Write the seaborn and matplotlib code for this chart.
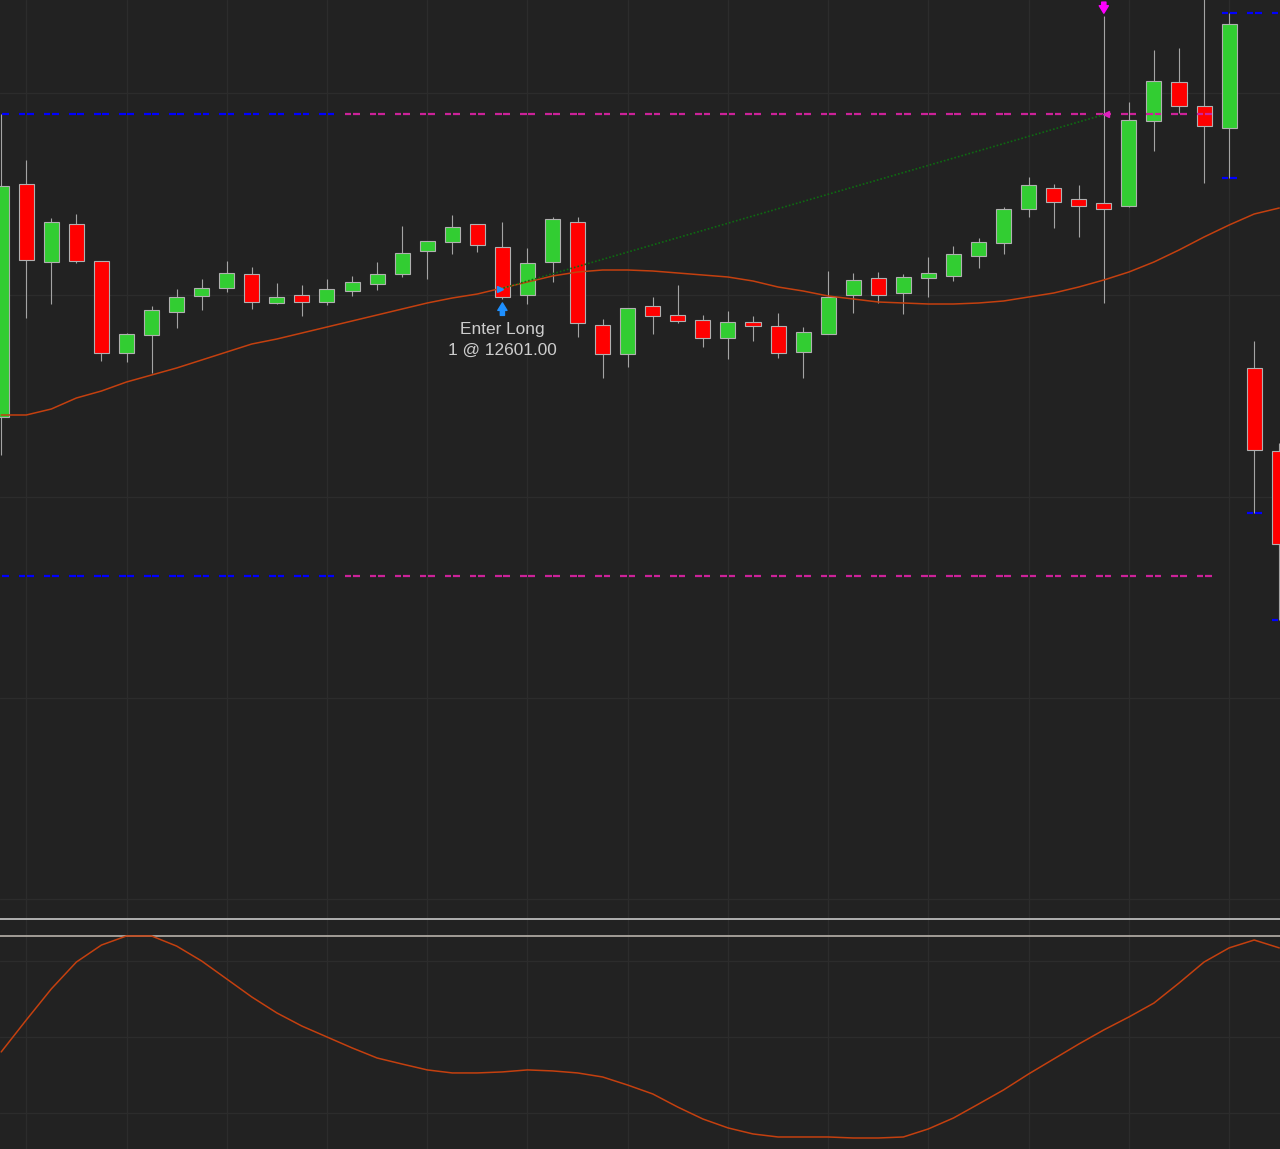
import numpy as np
import matplotlib
matplotlib.use("Agg")
import matplotlib.pyplot as plt
import seaborn as sns
from matplotlib.transforms import offset_copy

# price bars (one per session bar, index 0..51)
bars = np.arange(52)
opens = [12569.00, 12627.25, 12607.75, 12617.25, 12608.00, 12585.00, 12589.50, 12595.25, 12599.25, 12601.25,
         12604.75, 12597.50, 12599.50, 12597.75, 12600.50, 12602.25, 12604.75, 12610.50, 12612.75, 12617.25,
         12611.50, 12599.50, 12607.75, 12617.75, 12592.00, 12584.75, 12596.75, 12594.50, 12593.25, 12588.75,
         12592.75, 12591.75, 12585.25, 12589.75, 12599.50, 12603.75, 12600.00, 12603.75, 12604.25, 12609.25,
         12612.50, 12621.00, 12626.25, 12623.50, 12622.50, 12621.75, 12643.00, 12652.75, 12646.75, 12641.25,
         12581.25, 12560.50]
highs = [12644.75, 12633.25, 12618.75, 12619.75, 12608.00, 12590.00, 12596.75, 12601.00, 12603.50, 12608.00,
         12606.50, 12602.50, 12602.00, 12603.50, 12604.25, 12607.75, 12616.75, 12613.00, 12619.50, 12617.25,
         12617.75, 12611.25, 12619.00, 12619.00, 12593.50, 12596.25, 12599.00, 12602.00, 12594.50, 12595.50,
         12594.25, 12595.00, 12591.50, 12605.50, 12605.00, 12605.25, 12604.75, 12609.00, 12611.75, 12613.75,
         12621.50, 12629.00, 12627.25, 12627.00, 12669.25, 12647.75, 12660.75, 12661.25, 12678.25, 12670.00,
         12588.00, 12562.50]
lows = [12559.50, 12593.75, 12597.25, 12607.50, 12583.00, 12582.75, 12580.00, 12591.25, 12595.75, 12600.25,
        12596.00, 12597.25, 12594.25, 12597.00, 12599.25, 12600.75, 12604.00, 12603.50, 12609.75, 12610.25,
        12598.50, 12597.25, 12602.75, 12589.00, 12578.75, 12581.50, 12589.75, 12592.50, 12586.50, 12583.50,
        12588.00, 12583.75, 12578.75, 12589.75, 12595.00, 12597.50, 12594.75, 12599.00, 12603.00, 12606.25,
        12609.75, 12619.00, 12616.25, 12614.00, 12597.50, 12621.50, 12635.50, 12645.00, 12627.50, 12628.75,
        12545.00, 12518.25]
closes = [12626.75, 12608.25, 12617.75, 12608.00, 12585.00, 12589.75, 12595.75, 12599.00, 12601.25, 12605.00,
          12597.75, 12599.00, 12597.75, 12601.00, 12602.75, 12604.75, 12610.00, 12613.00, 12616.50, 12612.00,
          12599.00, 12607.50, 12618.50, 12592.50, 12584.75, 12596.25, 12594.25, 12593.00, 12588.75, 12592.75,
          12591.75, 12585.00, 12590.25, 12599.00, 12603.25, 12599.50, 12604.00, 12605.00, 12609.75, 12612.75,
          12621.00, 12627.00, 12622.75, 12621.75, 12621.00, 12643.25, 12653.00, 12646.75, 12641.75, 12667.25,
          12560.75, 12537.25]

# moving average on price panel
sma = [12569.50, 12569.50, 12571.00, 12573.75, 12575.50, 12577.75, 12579.50, 12581.25, 12583.25, 12585.25,
       12587.25, 12588.50, 12590.00, 12591.50, 12593.00, 12594.50, 12596.00, 12597.50, 12598.75, 12599.75,
       12601.25, 12602.75, 12604.25, 12605.25, 12605.75, 12605.75, 12605.50, 12605.00, 12604.50, 12604.00,
       12603.00, 12601.50, 12600.50, 12599.25, 12598.50, 12597.75, 12597.50, 12597.25, 12597.25, 12597.50,
       12598.00, 12599.00, 12600.00, 12601.50, 12603.25, 12605.25, 12607.75, 12610.75, 12614.00, 12617.00,
       12619.75, 12621.25]

# range levels (upper / lower) and which phase colours them
upper_level = [12644.75, 12644.75, 12644.75, 12644.75, 12644.75, 12644.75, 12644.75, 12644.75, 12644.75, 12644.75,
               12644.75, 12644.75, 12644.75, 12644.75, 12644.75, 12644.75, 12644.75, 12644.75, 12644.75, 12644.75,
               12644.75, 12644.75, 12644.75, 12644.75, 12644.75, 12644.75, 12644.75, 12644.75, 12644.75, 12644.75,
               12644.75, 12644.75, 12644.75, 12644.75, 12644.75, 12644.75, 12644.75, 12644.75, 12644.75, 12644.75,
               12644.75, 12644.75, 12644.75, 12644.75, 12644.75, 12644.75, 12644.75, 12644.75, 12644.75, 12670.00,
               12670.00, 12670.00]
lower_level = [12529.25, 12529.25, 12529.25, 12529.25, 12529.25, 12529.25, 12529.25, 12529.25, 12529.25, 12529.25,
               12529.25, 12529.25, 12529.25, 12529.25, 12529.25, 12529.25, 12529.25, 12529.25, 12529.25, 12529.25,
               12529.25, 12529.25, 12529.25, 12529.25, 12529.25, 12529.25, 12529.25, 12529.25, 12529.25, 12529.25,
               12529.25, 12529.25, 12529.25, 12529.25, 12529.25, 12529.25, 12529.25, 12529.25, 12529.25, 12529.25,
               12529.25, 12529.25, 12529.25, 12529.25, 12529.25, 12529.25, 12529.25, 12529.25, 12529.25, 12628.75,
               12545.00, 12518.25]
level_phase = [0, 0, 0, 0, 0, 0, 0, 0, 0, 0, 0, 0, 0, 0, 1, 1, 1, 1, 1, 1,
               1, 1, 1, 1, 1, 1, 1, 1, 1, 1, 1, 1, 1, 1, 1, 1, 1, 1, 1, 1,
               1, 1, 1, 1, 1, 1, 1, 1, 1, 0, 0, 0]

# oscillator (lower panel)
osc = [42.6, 58.4, 73.8, 87.1, 95.5, 100.0, 100.0, 95.0, 87.6, 78.7,
       69.8, 61.9, 55.4, 50.0, 44.6, 39.6, 36.6, 33.7, 32.2, 32.2,
       32.7, 33.7, 33.2, 32.2, 30.2, 26.2, 21.8, 15.3, 9.4, 5.0,
       2.0, 0.5, 0.5, 0.5, 0.0, 0.0, 0.5, 4.5, 9.9, 16.8,
       23.8, 31.7, 39.1, 46.5, 53.5, 59.9, 66.8, 76.7, 87.1, 94.1,
       98.0, 94.1]
osc_level = 100.0

# trade
entry_bar, entry_price = 20, 12601.00
exit_bar, exit_price = 44, 12644.75
entry_label = "Enter Long\n1 @ 12601.00"

price_grid = [12448.5, 12498.75, 12549.0, 12599.5, 12650.0]
osc_grid = [12.5, 50.0, 87.5]

BG = '#222222'
GRID = '#2c2c2c'
UP, DOWN = '#32cd32', '#ff0000'
MA_COLOR = '#c4400f'

sns.set_theme(style='dark', rc={'axes.facecolor': BG, 'figure.facecolor': BG,
                                'grid.color': GRID, 'grid.linewidth': 1.0})
plt.rcParams['font.family'] = ['Liberation Sans', 'DejaVu Sans']

fig = plt.figure(figsize=(12.8, 11.49), dpi=100)
H = 1149
ax = fig.add_axes([0, (H - 919) / H, 1, 919 / H])
ax2 = fig.add_axes([0, 0, 1, 230 / H])

o = np.array(opens); c = np.array(closes)
xlim = (-0.048, 51.03)

# --- price panel
ax.set_xlim(*xlim)
ax.set_ylim(12443.5, 12673.25)
ax.set_xticks(np.arange(1, 52, 4))
ax.set_yticks(price_grid)
ax.grid(True, color=GRID, lw=1.0)
ax.tick_params(length=0, labelbottom=False, labelleft=False)
for s in ax.spines.values():
    s.set_visible(False)

body_col = [UP if cc >= oo else DOWN for oo, cc in zip(o, c)]
ax.vlines(bars, lows, highs, color='#a4a4a4', lw=0.8, zorder=2)
ax.bar(bars, np.maximum(np.abs(c - o), 0.25), bottom=np.minimum(o, c), width=0.6,
       color=body_col, edgecolor='#b0b0b0', linewidth=0.8, zorder=3)

sns.lineplot(x=bars, y=sma, ax=ax, color=MA_COLOR, lw=1.1, zorder=4)

lvl_cols = ['#0000ff' if p == 0 else '#cc2299' for p in level_phase]
for lv in (upper_level, lower_level):
    ax.hlines(lv, bars - 0.3, bars - 0.035, colors=lvl_cols, lw=1.6, zorder=5)
    ax.hlines(lv, bars + 0.035, bars + 0.3, colors=lvl_cols, lw=1.6, zorder=5)

# trade connection
ax.plot([entry_bar - 0.1, exit_bar + 0.1], [entry_price, exit_price], ls=(0, (1, 1.2)),
        color='#0e6a12', lw=1.2, zorder=5)
ax.plot(entry_bar - 0.1, entry_price, marker='>', ms=5, color='#1e90ff', zorder=6)
ax.plot(exit_bar + 0.1, exit_price, marker='<', ms=4, color='#e020c0', zorder=6)

tip = offset_copy(ax.transData, fig=fig, x=0, y=-10, units='points')
ax.annotate('', xy=(entry_bar, entry_price), xycoords=tip, xytext=(0, -9), textcoords='offset points',
            arrowprops=dict(arrowstyle='simple,head_length=0.45,head_width=0.55,tail_width=0.25',
                            color='#1e90ff', shrinkA=0, shrinkB=0))
tip2 = offset_copy(ax.transData, fig=fig, x=0, y=2, units='points')
ax.annotate('', xy=(exit_bar, highs[exit_bar]), xycoords=tip2, xytext=(0, 8), textcoords='offset points',
            arrowprops=dict(arrowstyle='simple,head_length=0.45,head_width=0.55,tail_width=0.25',
                            color='#ff00ff', shrinkA=0, shrinkB=0))

l1, l2 = entry_label.split('\n')
ax.annotate(l1, xy=(entry_bar, entry_price), xytext=(0, -29.5), textcoords='offset points',
            ha='center', va='center', fontsize=12.4, color='#cdcdcd')
ax.annotate(l2, xy=(entry_bar, entry_price), xytext=(0, -44.5), textcoords='offset points',
            ha='center', va='center', fontsize=12.4, color='#cdcdcd')

# --- oscillator panel
ax2.set_xlim(*xlim)
ax2.set_ylim(-5.45, 108.4)
ax2.set_xticks(np.arange(1, 52, 4))
ax2.set_yticks(osc_grid)
ax2.grid(True, color=GRID, lw=1.0)
ax2.tick_params(length=0, labelbottom=False, labelleft=False)
for k, s in ax2.spines.items():
    s.set_visible(k == 'top')
ax2.spines['top'].set_color('#c8c8c8')
ax2.spines['top'].set_linewidth(1.2)
ax2.axhline(osc_level, color='#b8b2aa', lw=1.2, zorder=2)
sns.lineplot(x=bars, y=osc, ax=ax2, color=MA_COLOR, lw=1.1, zorder=3)

fig.savefig('out.png', dpi=100, facecolor=BG)
